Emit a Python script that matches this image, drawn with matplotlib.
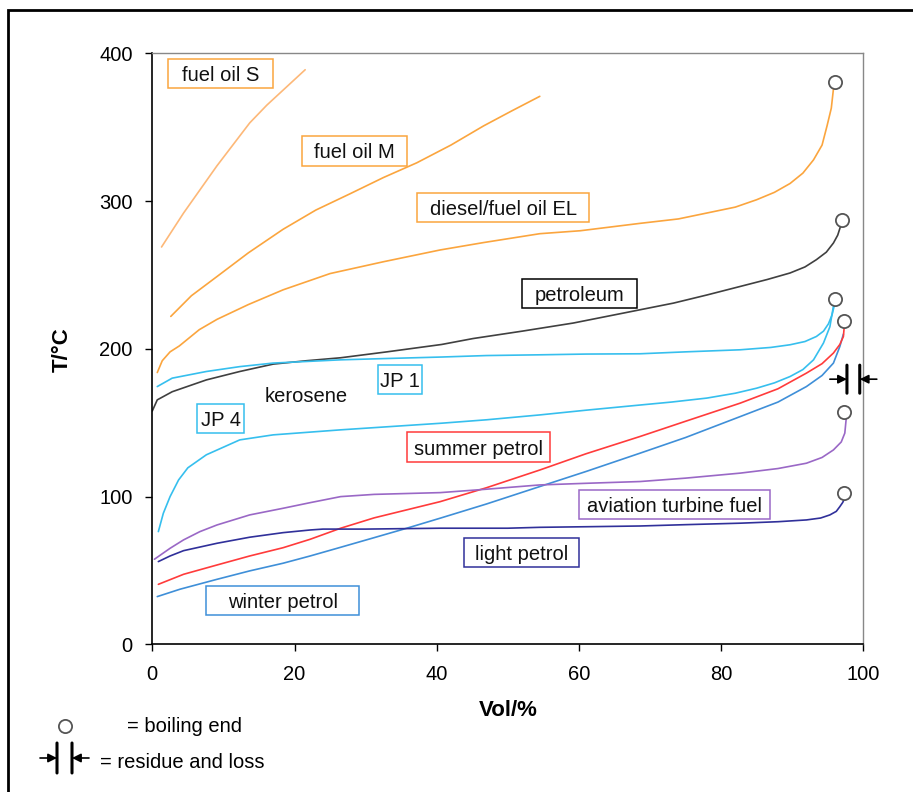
import matplotlib

matplotlib.use("Agg")
import matplotlib.pyplot as plt
from matplotlib.patches import Rectangle
from matplotlib.lines import Line2D

plt.rcParams["font.family"] = ["Liberation Sans", "DejaVu Sans"]

# ---- distillation curves (x = Vol/%, y = T/degC)
fuel_s_x = [1.3, 4.4, 9.1, 13.7, 16.1, 21.5]
fuel_s_y = [269, 292, 324, 353, 365, 389]

fuel_m_x = [2.6, 5.5, 9.1, 13.5, 18.4, 23, 27.8, 32.5, 37.2, 42, 46.6, 50.5, 54.5]
fuel_m_y = [222, 236, 249, 265, 281, 294, 305, 316, 326, 338, 351, 361, 371]

diesel_x = [0.7, 1.4, 2.5, 3.8, 6.6, 9.1, 13.5, 18.4, 25, 32.5, 40.5, 46.6, 54.5,
            60.2, 68.6, 74, 78, 82, 85, 87.5, 89.7, 91.5, 93, 94.2, 94.9, 95.5, 95.8]
diesel_y = [184, 192, 198, 202, 213, 220, 230, 240, 251, 259, 267, 272, 278,
            280, 285, 288, 292, 296, 301, 306, 312, 319, 328, 338, 351, 363, 376]

petro_x = [0, 0.7, 2.8, 7.6, 12.3, 17, 21.7, 26.5, 33, 40.7, 45.1, 52, 59.2, 66,
           73.3, 78, 82.7, 86.5, 89.7, 91.8, 93.4, 94.8, 95.8, 96.4, 96.8]
petro_y = [158, 165.5, 171, 179, 184.7, 189.7, 192, 194, 198, 203, 207, 212, 217.5,
           224, 231, 236.5, 242.3, 247, 251.4, 255.5, 260.4, 265.5, 271.7, 277, 283]

jp1_x = [0.7, 2.8, 7.6, 12.3, 17, 26.5, 33, 40.7, 47, 54.5, 61, 68.6, 75, 82.7,
         87, 89.7, 91.8, 93.4, 94.4, 95.1, 95.6, 95.9]
jp1_y = [174.5, 180.2, 184.7, 188, 190.4, 192.6, 193.5, 194.5, 195.5, 196, 196.5,
         196.7, 198, 199.4, 201, 202.8, 205, 208.4, 212, 217, 223, 229]

jp4_x = [0.85, 1.55, 2.5, 3.7, 5, 7.6, 12.3, 17, 26.5, 40.7, 47, 54.5, 61, 68.6, 73,
         78, 82, 85, 87.5, 89.7, 91.5, 93, 94.4, 95.3, 95.8]
jp4_y = [76.3, 88.7, 100, 111.3, 119.5, 128.3, 138.4, 141.8, 145.2, 149.7, 152, 155.3,
         158.5, 162, 164, 166.7, 170, 173.4, 177, 181.3, 186, 192.6, 204, 215, 229]

summer_x = [0.85, 4.4, 9.1, 13.7, 18.4, 22.2, 26.5, 31.2, 40.5, 47, 54.5, 61, 68.6,
            75, 82.7, 88, 92, 94.2, 95.8, 96.7, 97.2, 97.3]
summer_y = [40.6, 47.4, 53.7, 59.8, 65.4, 71.1, 78.6, 85.6, 96.6, 106, 118, 129,
            140.7, 151, 163.3, 173, 183.6, 190, 197.2, 203, 208.4, 214]

winter_x = [0.7, 3.9, 9.1, 13.7, 18.4, 22.2, 26.5, 31.2, 35.8, 40.5, 47, 54.5, 61,
            68.6, 75, 82.7, 88, 92, 94.2, 95.8, 96.7, 97.2]
winter_y = [32.3, 37.3, 44, 49.7, 54.9, 59.8, 65.7, 72.2, 78.6, 85.4, 95, 106.8, 117,
            129.4, 140, 154.2, 164, 174.5, 182, 190.4, 201.6, 210]

avia_x = [0.3, 2.5, 4.4, 6.7, 9.1, 13.7, 18.4, 22.2, 26.5, 31.2, 40.5, 47, 54.5, 61,
          68.6, 75, 82.7, 88, 92, 94.2, 95.8, 96.9, 97.4, 97.6]
avia_y = [57.6, 65, 70.7, 76.3, 80.8, 87.6, 92.1, 95.9, 100, 101.5, 102.7, 105, 107.9,
          109, 110.2, 112.5, 115.9, 119, 122.6, 126.5, 131.6, 137, 143, 153]

light_x = [0.85, 2.5, 4.4, 9.1, 13.7, 18.4, 22.2, 24, 30, 40.5, 50, 54.5, 61, 68.6,
           75, 82.7, 88, 92, 94, 95.3, 96.2, 96.7, 97.1, 97.3]
light_y = [56, 59.8, 63.4, 68.4, 72.5, 75.6, 77.4, 78, 78, 78.6, 78.6, 79.2, 79.6,
           80.1, 81, 82, 83, 84.2, 85.5, 87.6, 90, 93.2, 96, 98]

# boiling end circles
end_x = [96, 97, 96, 97.3, 97.3, 97.3]
end_y = [381, 287.5, 233.7, 219, 157.6, 102.3]

# residue and loss marker
residue_x = [97.7, 99.5]
residue_y = 179.5

# label texts, box centres and box widths (data units)
labels = ["fuel oil S", "fuel oil M", "diesel/fuel oil EL", "petroleum", "JP 1",
          "JP 4", "summer petrol", "aviation turbine fuel", "light petrol",
          "winter petrol"]
label_x = [9.63, 28.48, 49.37, 60.08, 34.84, 9.63, 45.88, 73.45, 51.93, 18.34]
label_y = [386.4, 334, 295.6, 237.3, 179.1, 153, 133.5, 94.7, 62.4, 29.7]
label_w = [14.8, 14.8, 24.2, 16.3, 6.1, 6.6, 20.1, 26.9, 16.2, 21.6]
LABEL_H = 19.8

ORANGE = "#FBA53E"
ORANGE_S = "#FDB878"
BLACK = "#404040"
LBLUE = "#36BFEE"
RED = "#FF3B3B"
MBLUE = "#3F8FD8"
PURPLE = "#9A68C6"
DBLUE = "#30309A"

series = [
    (fuel_s_x, fuel_s_y, ORANGE_S),
    (fuel_m_x, fuel_m_y, ORANGE),
    (diesel_x, diesel_y, ORANGE),
    (petro_x, petro_y, BLACK),
    (jp1_x, jp1_y, LBLUE),
    (jp4_x, jp4_y, LBLUE),
    (winter_x, winter_y, MBLUE),
    (summer_x, summer_y, RED),
    (avia_x, avia_y, PURPLE),
    (light_x, light_y, DBLUE),
]
label_colors = [ORANGE, ORANGE, ORANGE, "black", LBLUE, LBLUE, RED, PURPLE, DBLUE, MBLUE]

FS = 14.5
W, H = 913, 792
fig = plt.figure(figsize=(W / 100, H / 100), dpi=100)
ax = fig.add_axes([152.3 / W, (H - 644.3) / H, 711 / W, 590.8 / H])

for xs, ys, c in series:
    ax.plot(xs, ys, color=c, lw=1.2, solid_capstyle="round")

ax.plot(end_x, end_y, "o", ms=9.5, mfc="white", mec="#555555", mew=1.3, ls="none",
        zorder=5, clip_on=False)

for txt, x, y, w, c in zip(labels, label_x, label_y, label_w, label_colors):
    ax.add_patch(Rectangle((x - w / 2, y - LABEL_H / 2), w, LABEL_H, fc="white",
                           ec=c, lw=1.1, zorder=3))
    ax.text(x, y, txt, ha="center", va="center_baseline", fontsize=FS,
            color="#111111", zorder=4)
ax.text(21.7, 168.9, "kerosene", ha="center", va="center_baseline", fontsize=FS,
        color="#111111")


def residue_mark(x1, x2, y, half, arrow_len, coords):
    """two vertical bars with arrows pointing inwards"""
    for xb in (x1, x2):
        ax.annotate("", xy=(xb, y - half), xytext=(xb, y + half),
                    xycoords=coords, textcoords=coords,
                    arrowprops=dict(arrowstyle="-", color="black", lw=2.2,
                                    shrinkA=0, shrinkB=0),
                    annotation_clip=False)
    ax.annotate("", xy=(x1, y), xytext=(x1 - arrow_len, y), xycoords=coords,
                textcoords=coords,
                arrowprops=dict(arrowstyle="-|>", color="black", lw=1.2,
                                mutation_scale=13, shrinkA=0, shrinkB=0),
                annotation_clip=False)
    ax.annotate("", xy=(x2, y), xytext=(x2 + arrow_len, y), xycoords=coords,
                textcoords=coords,
                arrowprops=dict(arrowstyle="-|>", color="black", lw=1.2,
                                mutation_scale=13, shrinkA=0, shrinkB=0),
                annotation_clip=False)


residue_mark(residue_x[0], residue_x[1], residue_y, 9.5, 2.4, "data")

ax.set_xlim(0, 100)
ax.set_ylim(0, 400)
ax.set_xticks([0, 20, 40, 60, 80, 100])
ax.set_yticks([0, 100, 200, 300, 400])
ax.tick_params(direction="out", length=5, width=1, labelsize=FS, colors="black")
ax.tick_params(axis="x", pad=10)
ax.tick_params(axis="y", pad=9)
for s in ("left", "bottom"):
    ax.spines[s].set_color("black")
    ax.spines[s].set_linewidth(1.2)
for s in ("top", "right"):
    ax.spines[s].set_color("#888888")
    ax.spines[s].set_linewidth(1.0)

fig.text(62 / W, 1 - 350 / H, "T/°C", rotation=90, ha="center", va="center",
         fontsize=16, fontweight="bold")
fig.text(508 / W, 1 - 711 / H, "Vol/%", ha="center", va="center",
         fontsize=16, fontweight="bold")

# legend under the chart
fig.add_artist(Line2D([65 / W], [1 - 726 / H], marker="o", ms=9.5, mfc="white",
                      mec="#555555", mew=1.3, ls="none", transform=fig.transFigure))
fig.text(127 / W, 1 - 726 / H, "= boiling end", ha="left", va="center", fontsize=FS)
residue_mark(57, 72, H - 758, 15, 17, "figure pixels")
fig.text(100 / W, 1 - 762 / H, "= residue and loss", ha="left", va="center",
         fontsize=FS)

# outer frame
fig.add_artist(Rectangle((8 / W, -0.05), 1.0, 1 - 10 / H + 0.05, fill=False,
                         ec="black", lw=2, transform=fig.transFigure))

fig.savefig("out.png", dpi=100)
